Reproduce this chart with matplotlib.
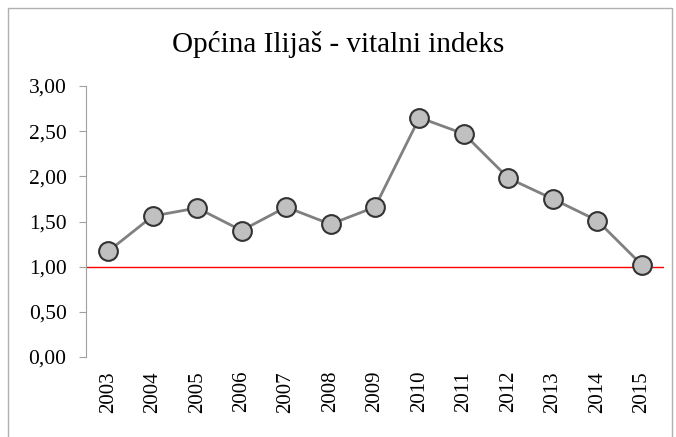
import matplotlib.pyplot as plt
from matplotlib.patches import Rectangle

plt.rcParams['font.family'] = ['Liberation Serif', 'DejaVu Serif']

# Data
years = ['2003', '2004', '2005', '2006', '2007', '2008', '2009',
         '2010', '2011', '2012', '2013', '2014', '2015']
index_values = [1.17, 1.56, 1.65, 1.40, 1.66, 1.47, 1.66,
                2.65, 2.47, 1.98, 1.75, 1.51, 1.02]
y_ticks = [0.0, 0.5, 1.0, 1.5, 2.0, 2.5, 3.0]

fig = plt.figure(figsize=(6.76, 4.37), dpi=100)
ax = fig.add_axes([86 / 676, 1 - 357 / 437, 578 / 676, 271 / 437])

x = list(range(len(years)))
ax.plot(x, index_values, color='#808080', linewidth=2, marker='o',
        markersize=13.5, markerfacecolor='#c0c0c0', markeredgecolor='#333333',
        markeredgewidth=1.5, zorder=3)
ax.axhline(1.0, color='#ff0000', linewidth=1, zorder=2)

ax.set_xlim(-0.5, len(years) - 0.5)
ax.set_ylim(0, 3)
ax.set_yticks(y_ticks)
ax.set_yticklabels([f"{v:.2f}".replace('.', ',') for v in y_ticks], fontsize=15.5)
ax.set_xticks(x)
ax.set_xticklabels(years, rotation=90, fontsize=15)
ax.tick_params(axis='x', length=0, pad=10)
ax.tick_params(axis='y', length=5, color='#a0a0a0', pad=9)

for side in ['top', 'right', 'bottom']:
    ax.spines[side].set_visible(False)
ax.spines['left'].set_color('#a0a0a0')

fig.text(0.5, 1 - 45 / 437, 'Općina Ilijaš - vitalni indeks', ha='center',
         va='center', fontsize=21)

fig.patches.append(Rectangle((8 / 676, -0.01), 664 / 676, 1 - 8 / 437 + 0.01,
                             transform=fig.transFigure, fill=False,
                             edgecolor='#b0b0b0', linewidth=1))

fig.savefig('out.png', dpi=100)
